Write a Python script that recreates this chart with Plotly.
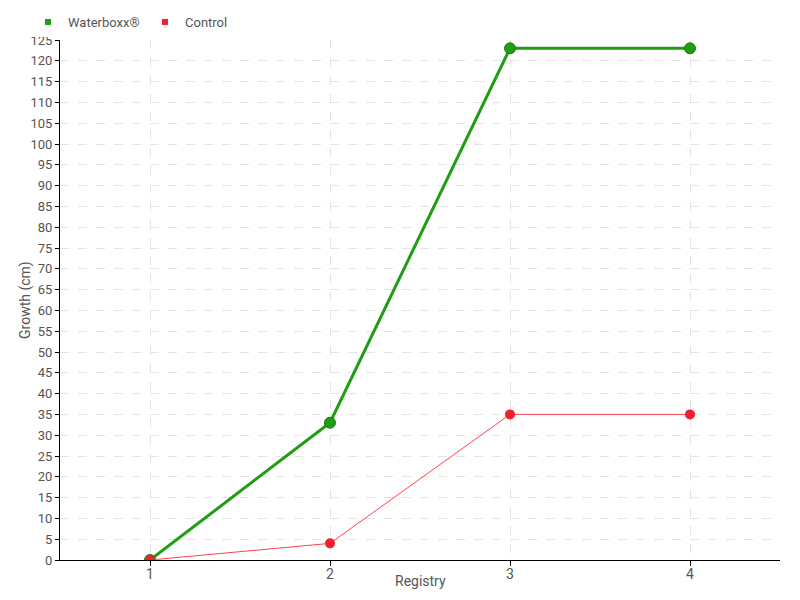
import plotly.graph_objects as go

registry = [1, 2, 3, 4]
waterboxx = [0, 33, 123, 123]
control = [0, 4, 35, 35]

GREEN = "#1f9e14"
RED = "#f0202f"
FONT = "Roboto, sans-serif"

# page body adds an 8px offset, so the figure is sized to fit the window
W, H = 792, 592

fig = go.Figure()

fig.add_trace(go.Scatter(
    x=registry, y=waterboxx, mode="lines+markers", name="Waterboxx®",
    line=dict(color=GREEN, width=3),
    marker=dict(size=11, color=GREEN, line=dict(color="#17780f", width=1)),
    showlegend=False))
fig.add_trace(go.Scatter(
    x=registry, y=control, mode="lines+markers", name="Control",
    line=dict(color="#ff4050", width=1),
    marker=dict(size=10, color=RED),
    showlegend=False))

# legend-only entries with square keys
for name, col in [("Waterboxx®", GREEN), ("Control", RED)]:
    fig.add_trace(go.Scatter(
        x=[None], y=[None], mode="markers", name=name,
        marker=dict(symbol="square", size=6, color=col)))

fig.update_layout(
    width=W, height=H,
    margin=dict(l=52, r=20, t=32, b=40, autoexpand=False),
    plot_bgcolor="white", paper_bgcolor="white",
    font=dict(family=FONT, size=14, color="#555555"),
    legend=dict(orientation="h", xref="container", x=20 / W,
                yref="container", y=1 - 14 / H, yanchor="middle",
                xanchor="left", font=dict(size=13, color="#555555"),
                itemwidth=30, entrywidth=72, tracegroupgap=0),
    xaxis=dict(
        range=[0.5, 4.5], tickvals=registry, ticks="outside", ticklen=5,
        ticklabelstandoff=-4,
        tickcolor="black", showline=True, linecolor="black", linewidth=1,
        showgrid=True, gridcolor="#e3e3e3", griddash="dash", zeroline=False),
    yaxis=dict(
        range=[0, 125], dtick=5, ticks="outside", ticklen=4,
        tickfont=dict(size=13),
        tickcolor="black", showline=True, linecolor="black", linewidth=1,
        showgrid=True, gridcolor="#e3e3e3", griddash="dash", zeroline=False),
    annotations=[
        dict(text="Registry", xref="paper", x=0.5, yref="paper",
             y=-21 / 520, yanchor="middle", showarrow=False,
             font=dict(size=14, color="#555555")),
        dict(text="Growth (cm)", xref="paper", x=-35 / 720, xanchor="center",
             yref="paper", y=0.5, textangle=-90, showarrow=False,
             font=dict(size=14, color="#555555")),
    ],
)

fig.write_html("out.html")
